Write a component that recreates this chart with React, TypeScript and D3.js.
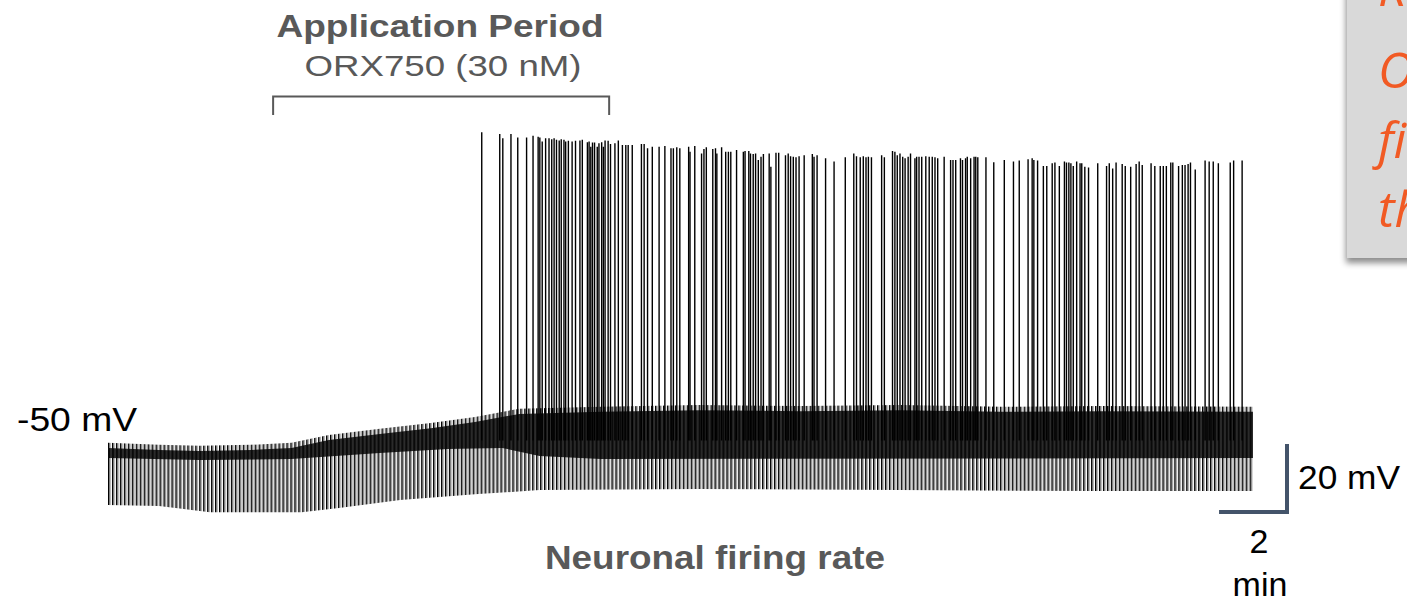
import React from 'react';
import * as d3 from 'd3';

const W = 1407;
const H = 600;

// Recording: time in minutes, membrane potential in mV
const recordingEnd = 33.7;
const pulseIntervalSec = 7; // hyperpolarizing test pulse period (s)
const applicationStart = 4.86;
const applicationEnd = 14.75;
const spikeBase = -56;

// Upper edge of the subthreshold trace [t, mV]
const restTop: [number, number][] = [
  [0, -58.2], [1.5, -58.8], [2.7, -59.1], [4.2, -58.8], [5.4, -58.2], [6.5, -55.9],
  [8.0, -54.1], [9.5, -52.4], [10.8, -50.6], [12.1, -48.2], [14.5, -47.6], [17.4, -47.1],
  [20.4, -47.4], [23.3, -47.1], [26.3, -47.6], [29.2, -47.4], [33.7, -47.6],
];

// Lower edge of the dense subthreshold band [t, mV]
const restBottom: [number, number][] = [
  [0, -61.2], [2.7, -61.8], [5.4, -61.5], [8.0, -59.7], [10.0, -58.5], [11.6, -58.2],
  [12.7, -60.6], [14.5, -61.5], [33.7, -61.2],
];

// Tips of the hyperpolarizing test pulses [t, mV]
const pulseFloor: [number, number][] = [
  [0, -75.0], [1.5, -75.3], [3.0, -77.1], [3.9, -77.1], [5.7, -77.1], [6.8, -75.9],
  [8.6, -73.5], [10.9, -71.8], [12.7, -70.6], [17.4, -70.3], [23.3, -70.6], [29.2, -70.9],
  [33.7, -70.9],
];

// Action potentials [t (min), peak (mV)]
const spikes: [number, number][] = [
  [11.00, 34.6], [11.53, 34.1], [11.62, 32.9], [11.86, 34.1], [12.06, 33.1], [12.32, 33.1],
  [12.51, 33.6], [12.66, 33.3], [12.71, 33.1], [12.78, 31.9], [12.88, 32.9], [12.98, 32.9],
  [13.06, 32.6], [13.13, 32.9], [13.20, 32.4], [13.28, 32.2], [13.34, 32.6], [13.42, 32.4],
  [13.47, 31.9], [13.55, 32.1], [13.66, 31.9], [13.76, 32.1], [13.89, 32.2], [13.96, 32.4],
  [14.11, 31.7], [14.16, 31.9], [14.21, 30.4], [14.26, 31.6], [14.32, 31.6], [14.40, 30.4],
  [14.45, 31.4], [14.53, 31.7], [14.58, 30.4], [14.63, 32.2], [14.72, 32.1], [14.79, 31.2],
  [14.92, 31.4], [15.02, 32.2], [15.14, 30.9], [15.24, 30.9], [15.31, 30.9], [15.43, 30.9],
  [15.70, 31.2], [15.78, 31.2], [15.88, 29.9], [16.02, 30.4], [16.22, 30.4], [16.39, 30.6],
  [16.57, 29.9], [16.64, 29.9], [16.74, 30.2], [16.83, 29.9], [17.09, 30.4], [17.13, 28.9],
  [17.27, 30.6], [17.47, 28.4], [17.54, 29.7], [17.61, 30.2], [17.80, 29.7], [17.88, 29.9],
  [17.92, 28.4], [18.06, 30.2], [18.18, 28.9], [18.26, 28.9], [18.33, 28.9], [18.50, 29.4],
  [18.70, 28.9], [18.75, 29.1], [18.86, 29.1], [18.91, 28.4], [18.99, 28.2], [19.06, 28.4],
  [19.14, 26.5], [19.22, 27.4], [19.29, 28.2], [19.46, 28.4], [19.51, 24.5], [19.66, 28.6],
  [19.74, 28.6], [19.94, 27.9], [20.02, 28.4], [20.09, 27.6], [20.17, 27.4], [20.25, 27.3],
  [20.34, 27.6], [20.49, 27.9], [20.73, 28.2], [20.78, 27.4], [20.87, 27.9], [21.12, 27.0],
  [21.37, 26.0], [21.70, 27.3], [21.95, 28.4], [22.03, 27.6], [22.14, 27.3], [22.23, 27.6],
  [22.31, 27.3], [22.38, 27.4], [22.47, 27.3], [22.77, 27.9], [22.85, 27.3], [23.09, 29.1],
  [23.16, 28.9], [23.23, 27.9], [23.31, 28.4], [23.39, 27.4], [23.46, 27.0], [23.55, 27.4],
  [23.62, 28.4], [23.75, 27.0], [23.80, 27.4], [23.87, 27.4], [23.95, 27.4], [24.07, 27.6],
  [24.17, 27.4], [24.26, 27.4], [24.34, 27.3], [24.42, 27.0], [24.61, 27.4], [24.80, 26.5],
  [24.87, 26.5], [24.95, 26.5], [25.09, 27.0], [25.15, 26.5], [25.24, 27.0], [25.29, 27.4],
  [25.39, 27.0], [25.49, 27.4], [25.54, 27.4], [25.60, 27.3], [25.84, 27.3], [26.07, 25.8],
  [26.38, 26.5], [26.65, 26.0], [26.82, 26.3], [27.08, 26.7], [27.20, 27.0], [27.25, 26.5],
  [27.36, 26.3], [27.53, 24.7], [27.63, 24.7], [27.79, 25.5], [27.87, 25.7], [28.00, 24.7],
  [28.15, 26.0], [28.21, 25.7], [28.28, 25.7], [28.34, 25.5], [28.41, 24.7], [28.51, 26.0],
  [28.61, 25.5], [28.66, 25.5], [28.75, 24.5], [28.86, 24.3], [29.13, 25.5], [29.39, 24.7],
  [29.47, 25.5], [29.57, 24.0], [29.67, 25.7], [29.85, 25.3], [29.94, 24.7], [30.10, 24.5],
  [30.26, 25.3], [30.35, 26.0], [30.44, 25.0], [30.70, 25.5], [30.81, 24.7], [30.97, 24.7],
  [31.06, 24.7], [31.15, 24.7], [31.28, 25.7], [31.34, 25.7], [31.51, 24.7], [31.62, 25.0],
  [31.70, 25.0], [31.79, 25.3], [31.86, 25.7], [32.00, 23.7], [32.29, 26.3], [32.41, 26.0],
  [32.53, 26.0], [32.68, 25.5], [33.03, 25.7], [33.13, 26.3], [33.38, 26.3],
];

const noteLines = ['Result', 'ORX750 increased', 'firing rate during', 'the application'];

const x = d3.scaleLinear().domain([0, recordingEnd]).range([108, 1253]);
const y = d3.scaleLinear().domain([-50, -30]).range([420, 352]);

const line = d3.line<[number, number]>().x((d) => x(d[0])).y((d) => y(d[1]));

// Closed outline between two edges given as separate knot lists
function band(top: [number, number][], bottom: [number, number][]) {
  return line([...top, ...bottom.slice().reverse()]) + 'Z';
}

export default function App() {
  const pulseW = x(pulseIntervalSec / 60) - x(0);
  const teeth = restTop.map(([t, v]) => [t, v + 1.5] as [number, number]);
  const barLenX = x(2) - x(0);
  const barLenY = y(-50) - y(-30);
  const cornerX = 1287;
  const cornerY = 512;
  const gray = '#595959';
  const sans = "'Liberation Sans', Arial, sans-serif";

  return (
    <div style={{ position: 'absolute', left: 0, top: 0 }}>
      <svg width={W} height={H} style={{ display: 'block', background: '#fff' }}>
        <defs>
          <pattern id="testPulses" patternUnits="userSpaceOnUse" x={x(0)} y={0} width={pulseW} height={H}>
            <rect x={0} y={0} width={1.5} height={H} fill="#000" />
            <rect x={1.5} y={0} width={1.0} height={H} fill="#777" />
          </pattern>
          <pattern id="denseTrace" patternUnits="userSpaceOnUse" x={x(0)} y={0} width={pulseW} height={H}>
            <rect x={0} y={0} width={pulseW} height={H} fill="#0a0a0a" />
            <rect x={2.6} y={0} width={0.8} height={H} fill="#5a5a5a" />
          </pattern>
          <filter id="noteShadow" x="-20%" y="-20%" width="140%" height="140%">
            <feDropShadow dx={-1} dy={5} stdDeviation={3} floodColor="#000" floodOpacity={0.45} />
          </filter>
        </defs>

        {/* membrane potential trace */}
        <path d={band(teeth, pulseFloor)} fill="url(#testPulses)" />
        <path d={band(restTop, restBottom)} fill="url(#denseTrace)" />
        <g stroke="#000" strokeWidth={1.4}>
          {spikes.map(([t, peak], i) => (
            <line key={i} x1={x(t)} x2={x(t)} y1={y(spikeBase)} y2={y(peak)} />
          ))}
        </g>

        {/* application bracket */}
        <path
          d={`M${x(applicationStart)},115 V96.5 H${x(applicationEnd)} V115`}
          fill="none"
          stroke={gray}
          strokeWidth={2}
        />
        <text x={440} y={37} textAnchor="middle" fontFamily={sans} fontWeight="bold" fontSize={31}
          fill={gray} textLength={327} lengthAdjust="spacingAndGlyphs">Application Period</text>
        <text x={443} y={76} textAnchor="middle" fontFamily={sans} fontSize={30}
          fill={gray} textLength={277} lengthAdjust="spacingAndGlyphs">ORX750 (30 nM)</text>

        <text x={17} y={431} fontFamily={sans} fontSize={33.5} fill="#000"
          textLength={120} lengthAdjust="spacingAndGlyphs">-50 mV</text>

        <text x={715} y={569} textAnchor="middle" fontFamily={sans} fontWeight="bold" fontSize={33}
          fill={gray} textLength={340} lengthAdjust="spacingAndGlyphs">Neuronal firing rate</text>

        {/* scale bars: 20 mV, 2 min */}
        <path
          d={`M${cornerX},${cornerY - barLenY} V${cornerY} H${cornerX - barLenX}`}
          fill="none"
          stroke="#44546a"
          strokeWidth={4}
        />
        <text x={1298} y={489} fontFamily={sans} fontSize={34} fill="#000"
          textLength={102} lengthAdjust="spacingAndGlyphs">20 mV</text>
        <text x={1259} y={553} textAnchor="middle" fontFamily={sans} fontSize={34} fill="#000">2</text>
        <text x={1260} y={596} textAnchor="middle" fontFamily={sans} fontSize={34} fill="#000">min</text>

        {/* callout */}
        <rect x={1347} y={-30} width={120} height={288} fill="#d9d9d9" filter="url(#noteShadow)" />
        {noteLines.map((s, i) => (
          <text key={i} x={1378} y={6 + (i === 0 ? 0 : 82 + (i - 1) * 69.5)} fontFamily="'Open Sans', sans-serif"
            fontStyle="italic" fontSize={50} fill="#f15a24">{s}</text>
        ))}
      </svg>
    </div>
  );
}
